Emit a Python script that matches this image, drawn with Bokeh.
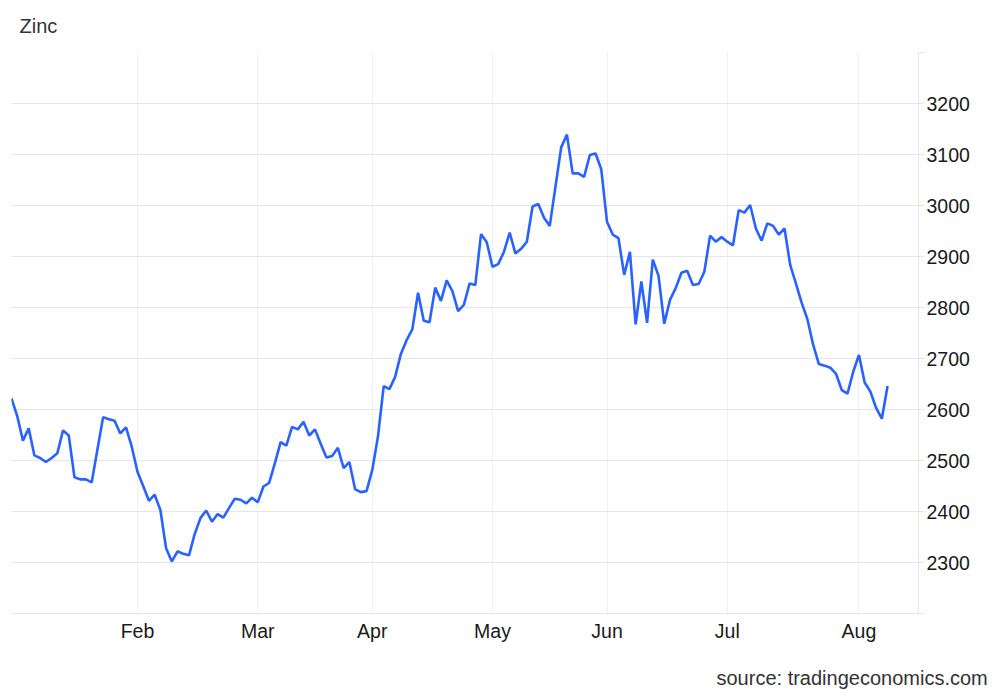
from bokeh.plotting import figure
from bokeh.models import Range1d, FixedTicker, Title, ColumnDataSource
from bokeh.embed import file_html
from bokeh.resources import INLINE

# Zinc price, one value per trading day (Jan 2 .. Aug 8)
values = [
    2622, 2587, 2539, 2563, 2510, 2505, 2497, 2505, 2514, 2559,
    2549, 2467, 2463, 2463, 2457, 2521, 2585, 2581, 2578, 2553,
    2565, 2527, 2478, 2450, 2421, 2433, 2403, 2328, 2302, 2322,
    2317, 2314, 2356, 2387, 2402, 2380, 2395, 2388, 2407, 2425,
    2423, 2416, 2427, 2418, 2449, 2456, 2495, 2536, 2529, 2566,
    2561, 2576, 2549, 2561, 2533, 2506, 2509, 2525, 2485, 2497,
    2444, 2438, 2440, 2481, 2547, 2646, 2640, 2664, 2709, 2736,
    2757, 2829, 2774, 2771, 2839, 2813, 2853, 2832, 2793, 2805,
    2847, 2844, 2944, 2928, 2880, 2885, 2909, 2947, 2906, 2915,
    2929, 2998, 3003, 2976, 2960, 3037, 3114, 3139, 3063, 3063,
    3056, 3099, 3102, 3071, 2968, 2943, 2936, 2864, 2909, 2767,
    2851, 2770, 2894, 2862, 2768, 2815, 2838, 2868, 2872, 2844,
    2846, 2870, 2941, 2929, 2938, 2929, 2922, 2991, 2986, 3001,
    2955, 2931, 2965, 2960, 2943, 2955, 2883, 2847, 2809, 2777,
    2727, 2689, 2686, 2682, 2670, 2638, 2631, 2674, 2707, 2653,
    2635, 2603, 2582, 2646,
]
month_labels = ["Feb", "Mar", "Apr", "May", "Jun", "Jul", "Aug"]
month_index = [22, 43, 63, 84, 104, 125, 148]
y_ticks = [2200, 2300, 2400, 2500, 2600, 2700, 2800, 2900, 3000, 3100, 3200, 3300]
title_text = "Zinc"
source_text = "source: tradingeconomics.com"

src = ColumnDataSource(data=dict(i=list(range(len(values))), v=values))

p = figure(width=1000, height=693, output_backend="svg", toolbar_location=None,
           x_range=Range1d(0, 158.4), y_range=Range1d(2200, 3300),
           y_axis_location="right",
           min_border_left=11, min_border_top=52, min_border_right=82,
           min_border_bottom=79)
p.outline_line_color = None
p.background_fill_color = "white"
p.border_fill_color = "white"

p.title.text = title_text
p.title.align = "left"
p.title.vertical_align = "top"
p.title.offset = 8
p.title.standoff = 27
p.title.text_font = "Liberation Sans"
p.title.text_font_size = "20px"
p.title.text_font_style = "normal"
p.title.text_color = "#333333"

p.line("i", "v", source=src, line_color="#2962ff", line_width=2.6)

# x axis
p.xaxis.ticker = FixedTicker(ticks=month_index)
p.xaxis.major_label_overrides = {i: l for i, l in zip(month_index, month_labels)}
p.xaxis.axis_line_color = "#e6e6e6"
p.xaxis.major_tick_line_color = None
p.xaxis.major_tick_in = 0
p.xaxis.major_tick_out = 0
p.xaxis.minor_tick_line_color = None
p.xaxis.major_label_standoff = 6
p.xaxis.major_label_text_font = "Liberation Sans"
p.xaxis.major_label_text_font_size = "19.5px"
p.xaxis.major_label_text_color = "#1a1a1a"

# y axis
p.yaxis.ticker = FixedTicker(ticks=y_ticks)
p.yaxis.major_label_overrides = {y_ticks[0]: "", y_ticks[-1]: ""}
p.yaxis.axis_line_color = "#e6e6e6"
p.yaxis.major_tick_line_color = "#e6e6e6"
p.yaxis.major_tick_in = 0
p.yaxis.major_tick_out = 6
p.yaxis.minor_tick_line_color = None
p.yaxis.major_label_standoff = 2
p.yaxis.major_label_text_font = "Liberation Sans"
p.yaxis.major_label_text_font_size = "19.5px"
p.yaxis.major_label_text_color = "#1a1a1a"

p.xgrid.grid_line_color = "#edf1f6"
p.ygrid.grid_line_color = "#e6e6e6"

# small spacer between the month labels and the source note
p.add_layout(Title(text=" ", text_font_size="1px", standoff=12), "below")
p.add_layout(Title(text=source_text, align="left", offset=705, standoff=10,
                   vertical_align="bottom",
                   text_font="Liberation Sans", text_font_size="20px",
                   text_font_style="normal", text_color="#333333"), "below")

open("out.html", "w").write(file_html(p, INLINE))
